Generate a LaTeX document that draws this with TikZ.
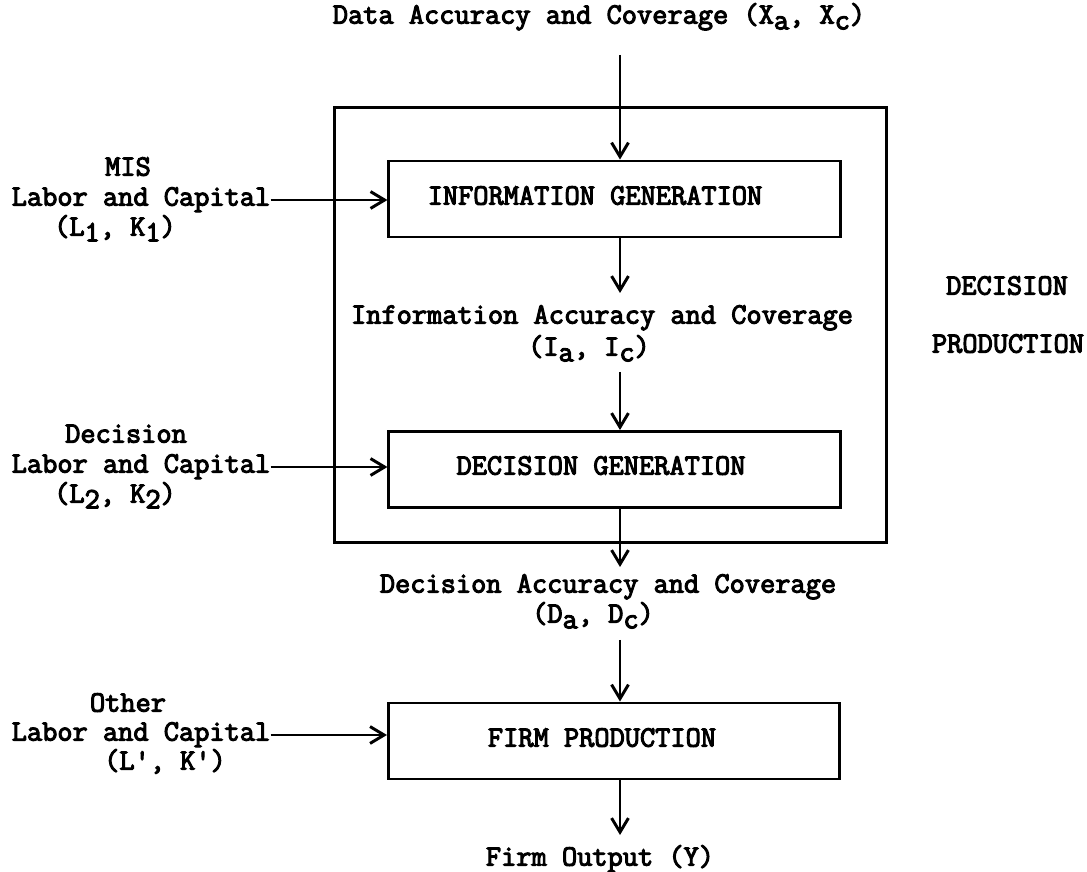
\documentclass[tikz,border=0pt]{standalone}
\usepackage{fontspec}
% heavy typewriter face
\newfontfamily\typewr{Latin Modern Mono}[FakeBold=3.6]
\usetikzlibrary{arrows.meta}
% lowered index letters, as typed on a typewriter
\newcommand{\lo}[1]{\raisebox{-0.45ex}{#1}}

\begin{document}
\begin{tikzpicture}[x=0.025cm, y=-0.025cm,
  every node/.style={font=\typewr\fontsize{21}{24}\selectfont,
                     inner sep=0pt, text height=11pt, text depth=3pt},
  blk/.style={draw, line width=2.1pt, minimum width=11.275cm, minimum height=1.9cm},
  frame/.style={draw, line width=2.1pt, minimum width=13.775cm, minimum height=10.85cm},
  arr/.style={line width=2.1pt,
              -{Straight Barb[length=10pt, width=12pt, line width=2.1pt]}}]
\useasboundingbox (0,0) rectangle (1087,872);

% decision production frame
\node[frame] (dp) at (610.5,325) {};

% process blocks
\node[blk] (info) at (614.5,199) {};
\node[blk] (dec)  at (614.5,469.5) {};
\node[blk] (firm) at (614,741) {};

\node (infot) at (595,199) {INFORMATION GENERATION};
\node (dect)  at (601,469) {DECISION GENERATION};
\node (firmt) at (602,741) {FIRM PRODUCTION};

% vertical flow
\coordinate (spine) at (620,0);
\node (data) at (599,18) {Data Accuracy and Coverage (X\lo{a}, X\lo{c})};
\coordinate (datab) at (620,55);
\node (ia) at (602,318) {Information Accuracy and Coverage};
\node (iac) at (589,350) {(I\lo{a}, I\lo{c})};
\coordinate (iatop) at (620,293);
\coordinate (iabot) at (620,372);
\node (da) at (608,587) {Decision Accuracy and Coverage};
\node (dac) at (593,617) {(D\lo{a}, D\lo{c})};
\coordinate (datop) at (620,567);
\coordinate (dabot) at (620,640);
\node (out) at (600,860) {Firm Output (Y)};
\coordinate (outtop) at (620,835);

\draw[arr] (datab) -- (info.north -| spine);
\draw[arr] (info.south -| spine) -- (iatop);
\draw[arr] (iabot) -- (dec.north -| spine);
\draw[arr] (dec.south -| spine) -- (datop);
\draw[arr] (dabot) -- (firm.north -| spine);
\draw[arr] (firm.south -| spine) -- (outtop);

% factor inputs
\node (mis)  at (128,170) {MIS};
\node (lk1)  at (141,200) {Labor and Capital};
\node (lk1s) at (115,230) {(L\lo{1}, K\lo{1})};

\node (decl) at (126,437) {Decision};
\node (lk2)  at (141,467) {Labor and Capital};
\node (lk2s) at (115,497) {(L\lo{2}, K\lo{2})};

\node (oth)  at (128,706) {Other};
\node (lk3)  at (141,735) {Labor and Capital};
\node (lk3s) at (165,764) {(L', K')};

\draw[arr] (lk1.east) -- (lk1.east -| info.west);
\draw[arr] (lk2.east) -- (lk2.east -| dec.west);
\draw[arr] (lk3.east) -- (lk3.east -| firm.west);

% frame caption
\node (cap1) at (1007,289) {DECISION};
\node (cap2) at (1008,347) {PRODUCTION};
\end{tikzpicture}
\end{document}
